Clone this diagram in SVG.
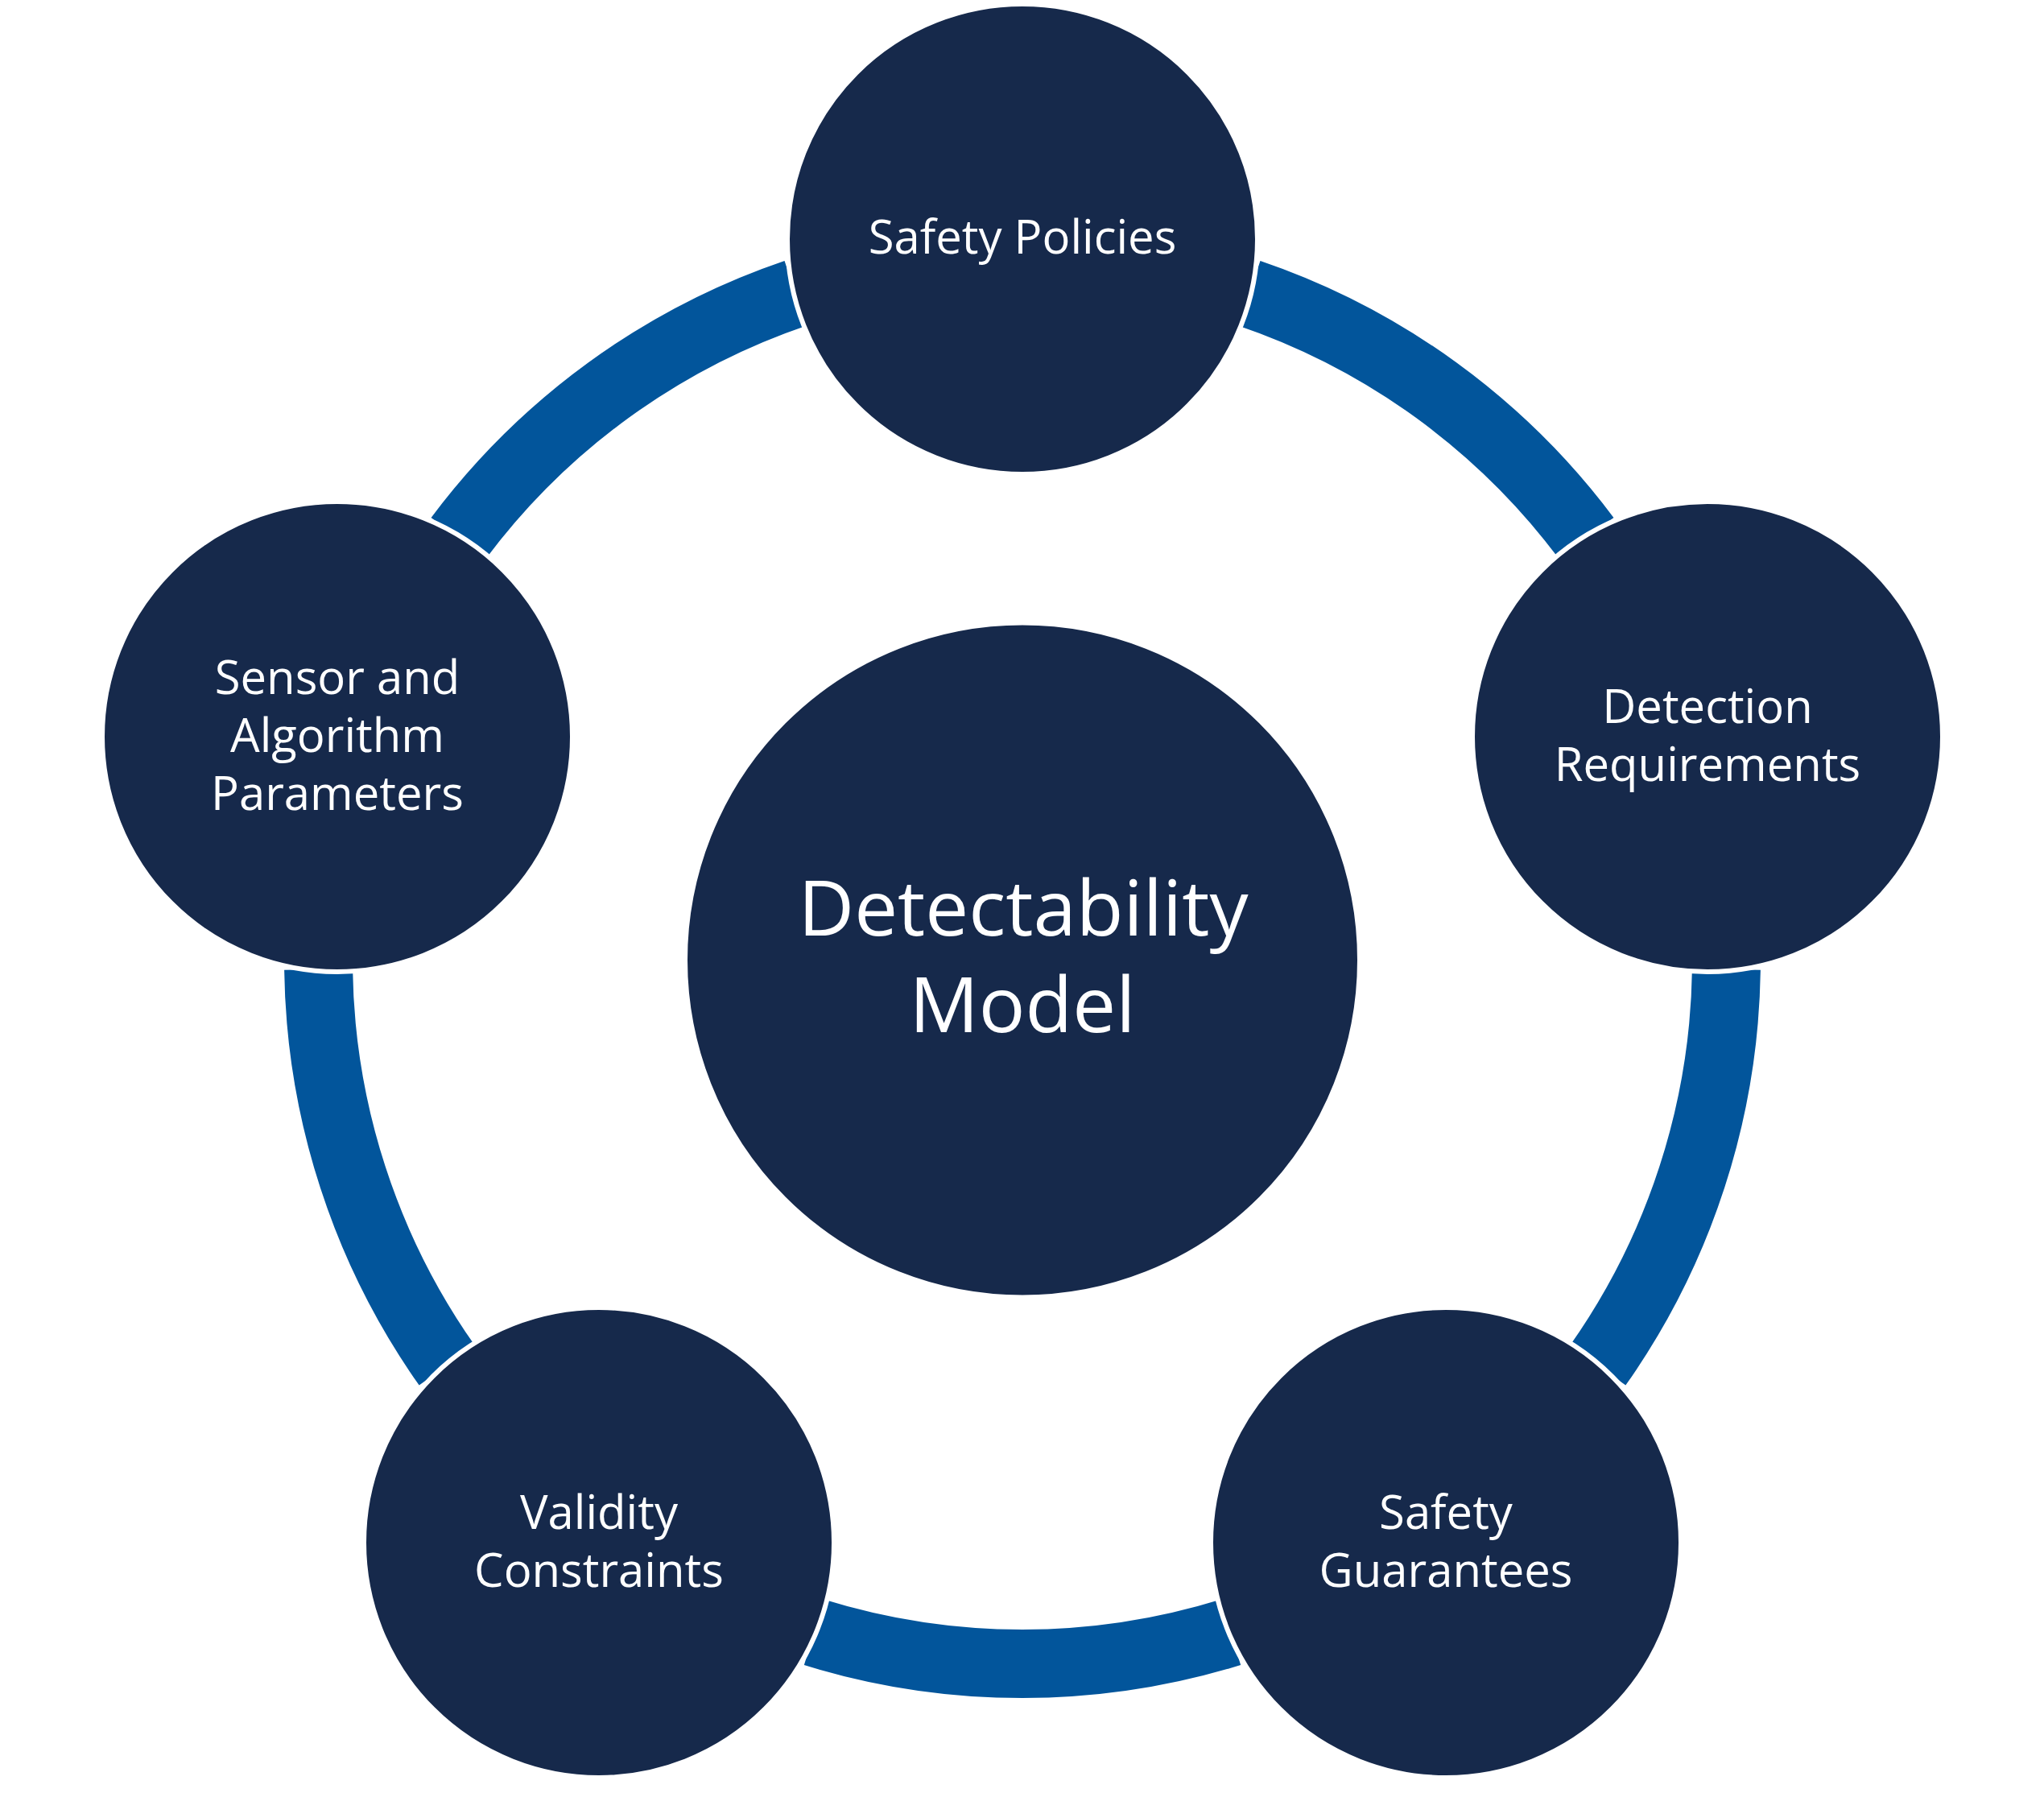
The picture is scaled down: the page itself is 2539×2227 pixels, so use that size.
<svg xmlns="http://www.w3.org/2000/svg" width="2539" height="2227" viewBox="0 0 2539 2227">
<style>
.arc{fill:none;stroke:#02559B;stroke-width:85;stroke-linecap:butt}
.node{fill:#16294B;stroke:#FFFFFF;stroke-width:6}
.lbl{fill:#FFFFFF;font-family:"Open Sans","Noto Sans","Liberation Sans",sans-serif;font-size:58px;text-anchor:middle}
.big{fill:#FFFFFF;font-family:"Open Sans","Noto Sans","Liberation Sans",sans-serif;font-size:96px;text-anchor:middle}
</style>
<rect width="2539" height="2227" fill="#FFFFFF"/>
<g id="connectors">
<path class="arc" d="M1551.8,364.2 A874.5,874.5 0 0 1 1970.4,668.4"/>
<path class="arc" d="M2144.4,1204.2 A874.5,874.5 0 0 1 1984.6,1696.1"/>
<path class="arc" d="M1528.6,2027.4 A874.5,874.5 0 0 1 1011.4,2027.4"/>
<path class="arc" d="M555.4,1696.1 A874.5,874.5 0 0 1 395.6,1204.2"/>
<path class="arc" d="M569.6,668.4 A874.5,874.5 0 0 1 988.2,364.2"/>
</g>
<g id="center">
<circle class="node" cx="1270" cy="1192.5" r="419"/>
<text class="big" x="1271" y="1162">Detectability</text>
<text class="big" x="1270" y="1282">Model</text>
</g>
<g id="safety-policies">
<circle class="node" cx="1270" cy="297" r="292"/>
<text class="lbl" x="1270" y="315">Safety Policies</text>
</g>
<g id="detection-requirements">
<circle class="node" cx="2121" cy="915" r="292"/>
<text class="lbl" x="2121" y="898">Detection</text>
<text class="lbl" x="2121" y="970">Requirements</text>
</g>
<g id="safety-guarantees">
<circle class="node" cx="1796" cy="1916" r="292"/>
<text class="lbl" x="1796" y="1899">Safety</text>
<text class="lbl" x="1796" y="1971">Guarantees</text>
</g>
<g id="validity-constraints">
<circle class="node" cx="744" cy="1916" r="292"/>
<text class="lbl" x="744" y="1899">Validity</text>
<text class="lbl" x="744" y="1971">Constraints</text>
</g>
<g id="sensor-algorithm-parameters">
<circle class="node" cx="419" cy="915" r="292"/>
<text class="lbl" x="419" y="862">Sensor and</text>
<text class="lbl" x="419" y="934">Algorithm</text>
<text class="lbl" x="419" y="1006">Parameters</text>
</g>
</svg>
